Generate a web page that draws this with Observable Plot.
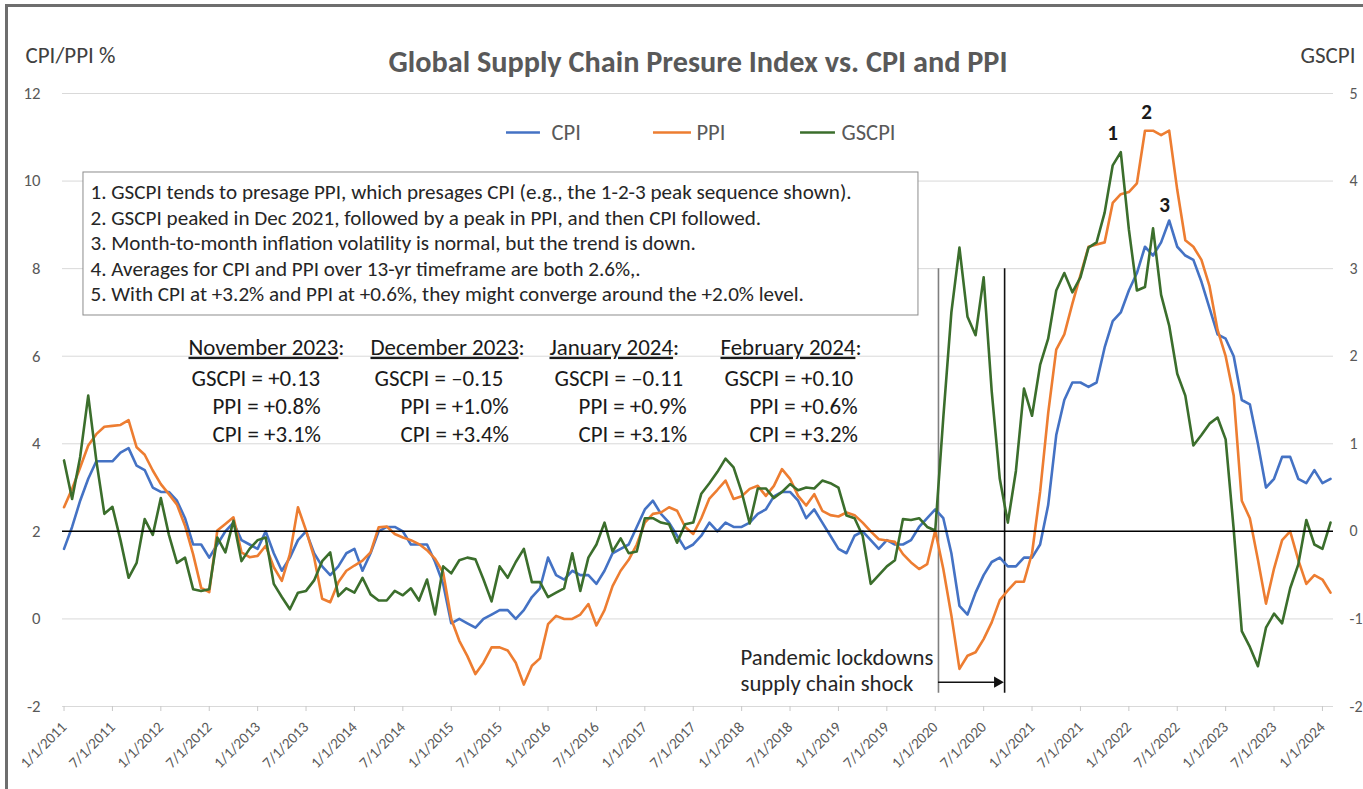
<!DOCTYPE html>
<html>
<head>
<meta charset="utf-8">
<script src="https://cdn.jsdelivr.net/npm/d3@7"></script>
<script src="https://cdn.jsdelivr.net/npm/@observablehq/plot@0.6"></script>
<style>
  html, body { margin: 0; padding: 0; background: #fff; width: 1363px; height: 789px; overflow: hidden; }
  #frame { position: absolute; left: 5px; top: 4px; width: 1400px; height: 820px; border-left: 3px solid #6e6e6e; border-top: 3px solid #6e6e6e; }
  #chart { position: absolute; left: 0; top: 0; }
</style>
</head>
<body>
<div id="frame"></div>
<div id="chart"></div>
<script>
// ---------------- data (monthly, Jan 2011 – Feb 2024) ----------------
const seriesNames = ["CPI", "PPI", "GSCPI"];
const seriesColors = ["#4472C4", "#ED7D31", "#3B6E2C"];

// CPI, year-over-year %
const cpi = [
  1.6, 2.1, 2.7, 3.2, 3.6, 3.6, 3.6, 3.8, 3.9, 3.5, 3.4, 3.0,      // 2011
  2.9, 2.9, 2.7, 2.3, 1.7, 1.7, 1.4, 1.7, 2.0, 2.2, 1.8, 1.7,      // 2012
  1.6, 2.0, 1.5, 1.1, 1.4, 1.8, 2.0, 1.5, 1.2, 1.0, 1.2, 1.5,      // 2013
  1.6, 1.1, 1.5, 2.0, 2.1, 2.1, 2.0, 1.7, 1.7, 1.7, 1.3, 0.8,      // 2014
  -0.1, 0.0, -0.1, -0.2, 0.0, 0.1, 0.2, 0.2, 0.0, 0.2, 0.5, 0.7,   // 2015
  1.4, 1.0, 0.9, 1.1, 1.0, 1.0, 0.8, 1.1, 1.5, 1.6, 1.7, 2.1,      // 2016
  2.5, 2.7, 2.4, 2.2, 1.9, 1.6, 1.7, 1.9, 2.2, 2.0, 2.2, 2.1,      // 2017
  2.1, 2.2, 2.4, 2.5, 2.8, 2.9, 2.9, 2.7, 2.3, 2.5, 2.2, 1.9,      // 2018
  1.6, 1.5, 1.9, 2.0, 1.8, 1.6, 1.8, 1.7, 1.7, 1.8, 2.1, 2.3,      // 2019
  2.5, 2.3, 1.5, 0.3, 0.1, 0.6, 1.0, 1.3, 1.4, 1.2, 1.2, 1.4,      // 2020
  1.4, 1.7, 2.6, 4.2, 5.0, 5.4, 5.4, 5.3, 5.4, 6.2, 6.8, 7.0,      // 2021
  7.5, 7.9, 8.5, 8.3, 8.6, 9.1, 8.5, 8.3, 8.2, 7.7, 7.1, 6.5,      // 2022
  6.4, 6.0, 5.0, 4.9, 4.0, 3.0, 3.2, 3.7, 3.7, 3.2, 3.1, 3.4,      // 2023
  3.1, 3.2                                                          // 2024
];

// PPI, year-over-year %
const ppi = [
  2.55, 2.97, 3.46, 3.96, 4.22, 4.39, 4.41, 4.43, 4.54, 3.92, 3.75, 3.39,       // 2011
  3.08, 2.85, 2.61, 2.13, 1.48, 0.71, 0.61, 2.02, 2.17, 2.32, 1.52, 1.41,       // 2012
  1.44, 1.67, 1.18, 0.87, 1.48, 2.55, 2.02, 1.41, 0.46, 0.38, 0.84, 1.10,       // 2013
  1.22, 1.33, 1.52, 2.09, 2.11, 1.94, 1.86, 1.80, 1.71, 1.57, 1.37, 1.06,       // 2014
  0.00, -0.50, -0.85, -1.26, -1.00, -0.65, -0.65, -0.72, -1.00, -1.50, -1.07, -0.90, // 2015
  -0.12, 0.07, 0.00, 0.00, 0.10, 0.34, -0.15, 0.20, 0.75, 1.10, 1.35, 1.70,     // 2016
  2.20, 2.40, 2.43, 2.55, 2.47, 2.10, 1.94, 2.30, 2.75, 2.95, 3.16, 2.74,       // 2017
  2.80, 2.97, 3.04, 2.81, 3.04, 3.42, 3.20, 2.81, 2.59, 2.85, 2.47, 2.37,       // 2018
  2.34, 2.43, 2.37, 2.20, 2.00, 1.82, 1.79, 1.76, 1.48, 1.29, 1.14, 1.25,       // 2019
  2.02, 1.14, 0.08, -1.14, -0.84, -0.76, -0.46, -0.08, 0.43, 0.65, 0.85, 0.85,  // 2020
  1.50, 2.90, 4.70, 6.15, 6.50, 7.20, 7.85, 8.50, 8.55, 8.60, 9.50, 9.70,       // 2021
  9.75, 9.95, 11.15, 11.15, 11.05, 11.15, 9.80, 8.65, 8.50, 8.20, 7.60, 6.60,   // 2022
  6.00, 5.10, 2.70, 2.30, 1.35, 0.35, 1.15, 1.80, 2.00, 1.35, 0.80, 1.00,       // 2023
  0.90, 0.60                                                                     // 2024
];

// Global Supply Chain Pressure Index (standard deviations, right axis)
const gscpi = [
  0.81, 0.37, 0.85, 1.55, 0.81, 0.20, 0.28, -0.10, -0.53, -0.36, 0.14, -0.04,       // 2011
  0.38, -0.04, -0.36, -0.30, -0.66, -0.68, -0.66, -0.07, -0.24, 0.12, -0.34, -0.20, // 2012
  -0.10, -0.07, -0.60, -0.75, -0.89, -0.70, -0.68, -0.56, -0.34, -0.24, -0.74, -0.65, // 2013
  -0.70, -0.53, -0.72, -0.79, -0.79, -0.68, -0.73, -0.65, -0.79, -0.55, -0.95, -0.40, // 2014
  -0.48, -0.33, -0.30, -0.32, -0.55, -0.80, -0.40, -0.53, -0.35, -0.20, -0.58, -0.58, // 2015
  -0.75, -0.70, -0.65, -0.25, -0.68, -0.30, -0.15, 0.10, -0.23, -0.08, -0.25, -0.23,  // 2016
  0.15, 0.15, 0.10, 0.08, -0.13, 0.08, 0.10, 0.43, 0.55, 0.68, 0.83, 0.73,          // 2017
  0.45, 0.09, 0.49, 0.49, 0.38, 0.45, 0.54, 0.47, 0.50, 0.49, 0.58, 0.55,           // 2018
  0.50, 0.18, 0.15, -0.05, -0.60, -0.50, -0.40, -0.33, 0.14, 0.13, 0.15, 0.05,      // 2019
  0.01, 1.30, 2.50, 3.24, 2.45, 2.24, 2.90, 1.60, 0.60, 0.10, 0.69, 1.63,           // 2020
  1.32, 1.90, 2.20, 2.75, 2.95, 2.73, 2.90, 3.24, 3.30, 3.64, 4.18, 4.33,           // 2021
  3.45, 2.75, 2.79, 3.46, 2.70, 2.35, 1.80, 1.55, 0.98, 1.10, 1.23, 1.30,           // 2022
  1.05, 0.02, -1.14, -1.32, -1.54, -1.10, -0.94, -1.05, -0.65, -0.38, 0.13, -0.15,  // 2023
  -0.20, 0.10                                                                        // 2024
];

// axis ticks
const leftTicks = [-2, 0, 2, 4, 6, 8, 10, 12];
const tickLabels = [
  "1/1/2011", "7/1/2011", "1/1/2012", "7/1/2012", "1/1/2013", "7/1/2013",
  "1/1/2014", "7/1/2014", "1/1/2015", "7/1/2015", "1/1/2016", "7/1/2016",
  "1/1/2017", "7/1/2017", "1/1/2018", "7/1/2018", "1/1/2019", "7/1/2019",
  "1/1/2020", "7/1/2020", "1/1/2021", "7/1/2021", "1/1/2022", "7/1/2022",
  "1/1/2023", "7/1/2023", "1/1/2024"
];

// text
const title = "Global Supply Chain Presure Index vs. CPI and PPI";
const notes = [
  "1. GSCPI tends to presage PPI, which presages CPI (e.g., the 1-2-3 peak sequence shown).",
  "2. GSCPI peaked in Dec 2021, followed by a peak in PPI, and then CPI followed.",
  "3. Month-to-month inflation volatility is normal, but the trend is down.",
  "4. Averages for CPI and PPI over 13-yr timeframe are both 2.6%,.",
  "5. With CPI at +3.2% and PPI at +0.6%, they might converge around the +2.0% level."
];
const statMonths = ["November 2023", "December 2023", "January 2024", "February 2024"];
const statGSCPI = ["+0.13", "\u20130.15", "\u20130.11", "+0.10"];
const statPPI = ["+0.8%", "+1.0%", "+0.9%", "+0.6%"];
const statCPI = ["+3.1%", "+3.4%", "+3.1%", "+3.2%"];
const peakLabels = ["1", "2", "3"];
const pandemicText = ["Pandemic lockdowns", "supply chain shock"];

// ---------------- build ----------------
const FONT = "Carlito, Calibri, Lato, sans-serif";
const ctx = document.createElement("canvas").getContext("2d");
function fit(txt, target, weight = 400) {
  ctx.font = `${weight} 100px ${FONT}`;
  return +(100 * target / ctx.measureText(txt).width).toFixed(2);
}
const titleFS = fit(title, 619, 700);
const noteFS = fit(notes[0], 761);
const statFS = fit("November 2023:", 156);
const pandFS = fit(pandemicText[0], 193);
const axisTitleFS = fit("CPI/PPI %", 90);
const legendFS = fit("PPI", 29);
const tickFS = fit("1/1/2011", 58);
const peakFS = statFS * 0.92;

const rows = [];
cpi.forEach((v, i) => rows.push({m: i, series: "CPI", v}));
ppi.forEach((v, i) => rows.push({m: i, series: "PPI", v}));
gscpi.forEach((g, i) => rows.push({m: i, series: "GSCPI", v: 2 + 2 * g})); // secondary axis: 0 ↔ 2, 1 unit ↔ 2 units

const tickMonths = tickLabels.map((_, i) => i * 6);

const legend = seriesNames.map((name, i) => ({
  name, color: seriesColors[i],
  x1: [54.85, 73.07, 91.30][i], x2: [59.06, 77.78, 95.63][i], tx: [60.43, 78.40, 96.38][i]
}));

const statCols = statMonths.map((mo, i) => ({
  hx: [15.43, 37.99, 60.18, 81.38][i],
  gx: [15.80, 38.49, 60.80, 81.87][i],
  px: [18.40, 41.71, 63.78, 84.97][i],
  header: mo + ":",
  g: "GSCPI = " + statGSCPI[i],
  p: "PPI = " + statPPI[i],
  c: "CPI = " + statCPI[i]
}));

const noteRows = notes.map((t, i) => ({t, y: 9.739 - i * 0.5825}));
const peaks = [
  {t: peakLabels[0], m: 129.97, y: 11.09},
  {t: peakLabels[1], m: 134.19, y: 11.57},
  {t: peakLabels[2], m: 136.42, y: 9.44}
];

const chart = Plot.plot({
  width: 1363,
  height: 789,
  marginLeft: 62,
  marginRight: 30,
  marginTop: 93,
  marginBottom: 83,
  style: {fontFamily: FONT, background: "transparent", overflow: "visible"},
  x: {type: "linear", domain: [-0.19, 157.37]},
  y: {domain: [-2, 12]},
  color: {domain: seriesNames, range: seriesColors},
  marks: [
    Plot.gridY(leftTicks, {stroke: "#d9d9d9", strokeOpacity: 1, strokeWidth: 1}),
    Plot.axisY(leftTicks, {anchor: "left", tickSize: 0, tickPadding: 22, tickFormat: d => String(d),
      fontSize: tickFS * 1.1, color: "#595959", label: null}),
    Plot.axisY(leftTicks, {anchor: "right", tickSize: 0, tickPadding: 16, tickFormat: d => String((d - 2) / 2),
      fontSize: tickFS * 1.05, color: "#595959", textAnchor: "start", label: null}),
    Plot.axisX(tickMonths, {tickFormat: d => tickLabels[tickMonths.indexOf(d)], tickRotate: -45,
      tickSize: 5, tickPadding: 13, fontSize: tickFS, color: "#595959", stroke: "#c8c8c8", label: null}),

    // notes box
    Plot.rect([0], {x1: 2.41, x2: 105.92, y1: 10.196, y2: 6.93, fill: "white", stroke: "#8c8c8c", strokeWidth: 1}),
    Plot.text(noteRows, {x: 3.28, y: "y", text: "t", textAnchor: "start", fontSize: noteFS, fill: "#262626"}),

    // monthly stats
    Plot.text(statCols, {x: "hx", y: 6.2, text: "header", textAnchor: "start", fontSize: statFS, fill: "#1a1a1a"}),
    Plot.text(statCols, {x: "gx", y: 5.49, text: "g", textAnchor: "start", fontSize: statFS, fill: "#1a1a1a"}),
    Plot.text(statCols, {x: "px", y: 4.85, text: "p", textAnchor: "start", fontSize: statFS, fill: "#1a1a1a"}),
    Plot.text(statCols, {x: "px", y: 4.21, text: "c", textAnchor: "start", fontSize: statFS, fill: "#1a1a1a"}),

    // pandemic markers
    Plot.ruleX([108.4], {y1: 8, y2: -1.70, stroke: "#7f7f7f", strokeWidth: 1.6}),
    Plot.ruleX([116.6], {y1: 8, y2: -1.70, stroke: "#111", strokeWidth: 1.6}),
    Plot.ruleY([-1.445], {x1: 108.4, x2: 115.6, stroke: "#111", strokeWidth: 1.5}),
    Plot.dot([0], {x: 115.7, y: -1.445, symbol: "triangle", r: 4.2, rotate: 90, fill: "#111", stroke: null}),
    Plot.text(pandemicText, {x: 83.86, y: (d, i) => [-0.881, -1.475][i], text: d => d, textAnchor: "start",
      fontSize: pandFS, fill: "#262626"}),

    // series
    Plot.line(rows, {x: "m", y: "v", z: "series", stroke: "series", strokeWidth: 2.6, strokeLinejoin: "round"}),
    Plot.ruleY([2], {stroke: "#000", strokeWidth: 1.5}),

    // peak labels
    Plot.text(peaks, {x: "m", y: "y", text: "t", fontSize: peakFS, fontWeight: 700, fill: "#1a1a1a"}),

    // legend
    Plot.ruleY(legend, {x1: "x1", x2: "x2", y: 11.109, stroke: "color", strokeWidth: 2.6}),
    Plot.text(legend, {x: "tx", y: 11.109, text: "name", textAnchor: "start", fontSize: legendFS, fill: "#595959"}),

    // titles
    Plot.text([title], {x: 78.59, y: 12.708, text: d => d, fontSize: titleFS, fontWeight: 700, fill: "#595959"}),
    Plot.text(["CPI/PPI %"], {x: -4.78, y: 12.868, text: d => d, textAnchor: "start", fontSize: axisTitleFS, fill: "#404040"}),
    Plot.text(["GSCPI"], {x: 153.28, y: 12.868, text: d => d, textAnchor: "start", fontSize: axisTitleFS, fill: "#404040"})
  ]
});

// underline month headers (colon excluded)
chart.querySelectorAll("text").forEach(t => {
  const s = t.textContent;
  if (statMonths.some(mo => s === mo + ":")) {
    const base = s.slice(0, -1);
    while (t.firstChild) t.removeChild(t.firstChild);
    const ns = "http://www.w3.org/2000/svg";
    const a = document.createElementNS(ns, "tspan");
    a.textContent = base;
    a.setAttribute("text-decoration", "underline");
    a.style.textDecoration = "underline";
    const b = document.createElementNS(ns, "tspan");
    b.textContent = ":";
    t.appendChild(a); t.appendChild(b);
  }
});

document.getElementById("chart").appendChild(chart);
</script>
</body>
</html>
